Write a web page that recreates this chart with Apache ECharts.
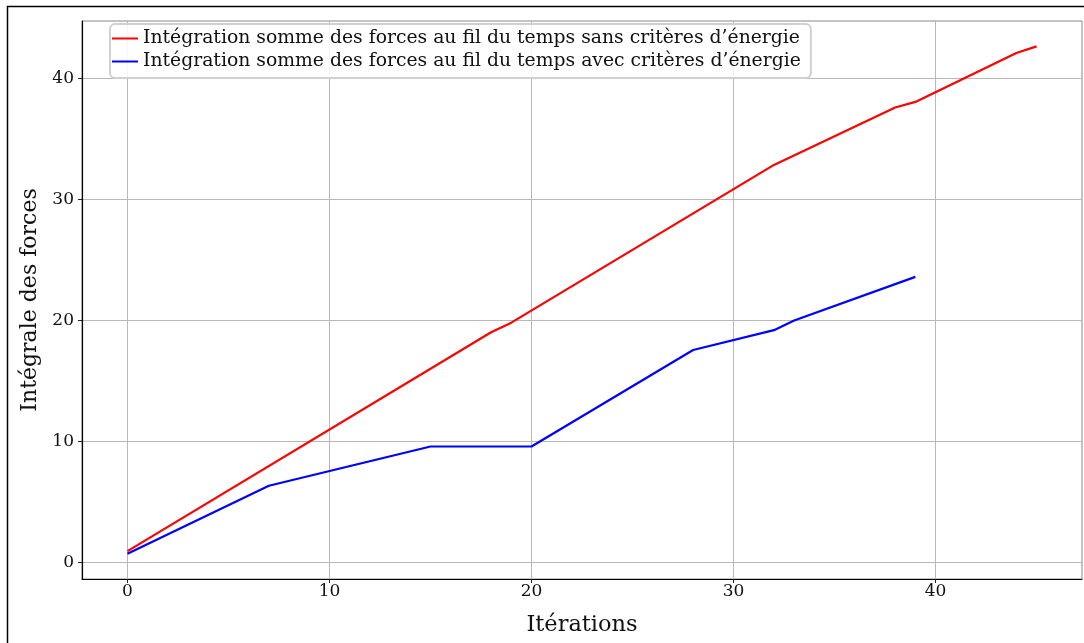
<!DOCTYPE html>
<html>
<head>
<meta charset="utf-8">
<script src="https://cdn.jsdelivr.net/npm/echarts@6/dist/echarts.min.js"></script>
<style>
html,body{margin:0;padding:0;background:#fff;}
#chart{width:1084px;height:643px;}
</style>
</head>
<body>
<div id="chart"></div>
<script>
// Data (vertices of the polylines)
const redIter   = [0, 18, 19, 32, 38, 39, 44, 45];
const redVals   = [0.95, 19.03, 19.82, 32.85, 37.59, 38.05, 42.09, 42.64];
const blueIter  = [0, 7, 15, 20, 28, 32, 33, 39];
const blueVals  = [0.74, 6.35, 9.59, 9.59, 17.56, 19.2, 20.0, 23.6];
const xTicks = [0, 10, 20, 30, 40];
const yTicks = [0, 10, 20, 30, 40];
const seriesNames = [
  "Intégration somme des forces au fil du temps sans critères d’énergie",
  "Intégration somme des forces au fil du temps avec critères d’énergie"
];
const xTitle = "Itérations";
const yTitle = "Intégrale des forces";

const FONT = "DejaVu Serif";
const pairs = (xs, ys) => xs.map((x, i) => [x, ys[i]]);

const chart = echarts.init(document.getElementById('chart'), null, {renderer: 'canvas'});
chart.setOption({
  animation: false,
  backgroundColor: '#fff',
  textStyle: {fontFamily: FONT},
  graphic: [{
    type: 'rect', left: 5, top: 4, silent: true, z: -10,
    shape: {x: 0, y: 0, width: 1200, height: 800},
    style: {fill: 'none', stroke: '#000', lineWidth: 1.5}
  }],
  grid: {left: 82, right: 2, top: 21, bottom: 64, show: true, borderColor: '#888', borderWidth: 1,
         containLabel: false, outerBoundsMode: 'none'},
  legend: {
    orient: 'vertical', left: 110, top: 24,
    backgroundColor: 'rgba(255,255,255,0.85)', borderColor: '#d0d0d0', borderWidth: 2, borderRadius: 5,
    padding: [5, 10, 7, 2], itemGap: 4, itemWidth: 26, itemHeight: 2, icon: 'rect',
    textStyle: {fontFamily: FONT, fontSize: 18.8, color: '#111', padding: [0, 0, 0, 0]},
    data: seriesNames
  },
  xAxis: {
    type: 'value', min: -2.25, max: 47.25,
    name: xTitle, nameLocation: 'middle', nameGap: 35,
    nameTextStyle: {fontFamily: FONT, fontSize: 22.5, color: '#111'},
    axisLine: {show: true, onZero: false, lineStyle: {color: '#000', width: 1.2}},
    axisTick: {show: true, length: 4, customValues: xTicks, lineStyle: {color: '#222'}},
    axisLabel: {customValues: xTicks, fontFamily: FONT, fontSize: 17, color: '#111', margin: 4, formatter: v => String(v)},
    splitLine: {show: true, lineStyle: {color: '#b8b8b8', width: 1}}
  },
  yAxis: {
    type: 'value', min: -1.355, max: 44.735,
    name: yTitle, nameLocation: 'middle', nameGap: 41, nameRotate: 90,
    nameTextStyle: {fontFamily: FONT, fontSize: 22, color: '#111'},
    axisLine: {show: true, onZero: false, lineStyle: {color: '#000', width: 1.2}},
    axisTick: {show: true, length: 4, customValues: yTicks, lineStyle: {color: '#222'}},
    axisLabel: {customValues: yTicks, fontFamily: FONT, fontSize: 17, color: '#111', margin: 8, formatter: v => String(v)},
    splitLine: {show: true, lineStyle: {color: '#b8b8b8', width: 1}}
  },
  series: [
    {name: seriesNames[0], type: 'line', data: pairs(redIter, redVals), symbol: 'none',
     lineStyle: {color: '#ff0000', width: 2.2}, itemStyle: {color: '#ff0000'}},
    {name: seriesNames[1], type: 'line', data: pairs(blueIter, blueVals), symbol: 'none',
     lineStyle: {color: '#0000ff', width: 2.2}, itemStyle: {color: '#0000ff'}}
  ]
});
</script>
</body>
</html>
